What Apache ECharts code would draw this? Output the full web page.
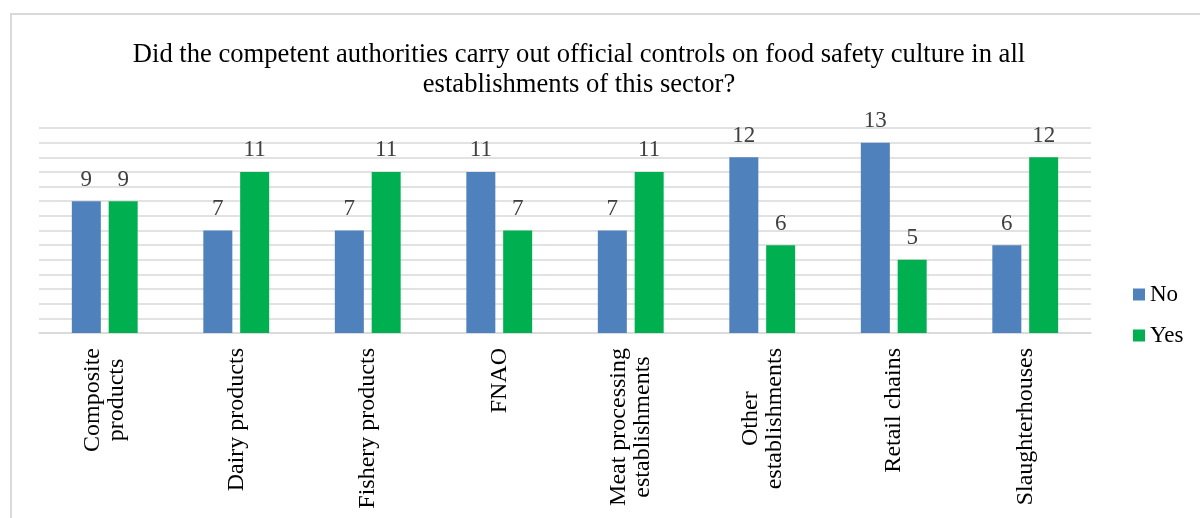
<!DOCTYPE html>
<html>
<head>
<meta charset="utf-8">
<script src="https://cdn.jsdelivr.net/npm/echarts@6/dist/echarts.min.js"></script>
<style>
  html, body { margin: 0; padding: 0; background: #fff; }
  #frame { position: absolute; left: 10px; top: 13px; width: 1300px; height: 600px;
           border-left: 2px solid #d9d9d9; border-top: 2px solid #d9d9d9; }
  #chart_1 { position: absolute; left: 0; top: 0; width: 1200px; height: 518px; }
</style>
</head>
<body>
<div id="frame"></div>
<div id="chart_1"></div>
<script>
var categories = ['Composite\nproducts', 'Dairy products', 'Fishery products', 'FNAO',
    'Meat processing\nestablishments', 'Other\nestablishments', 'Retail chains', 'Slaughterhouses'];
var noValues = [9, 7, 7, 11, 7, 12, 13, 6];
var yesValues = [9, 11, 11, 7, 11, 6, 5, 12];
var titleText = 'Did the competent authorities carry out official controls on food safety culture in all\nestablishments of this sector?';

function echart_1() {
    var myChart = echarts.init(document.getElementById('chart_1'));
    var font = '"Liberation Serif", serif';
    var labelSize = 24;

    // rotated labels are right aligned; shorter lines get a spacer after them
    // so the lines of one label look centred on each other
    var ctx = document.createElement('canvas').getContext('2d');
    ctx.font = labelSize + 'px ' + font;
    var rich = {};
    var labelText = categories.map(function (c, i) {
        var lines = c.split('\n');
        var widths = lines.map(function (s) { return ctx.measureText(s).width; });
        var w = Math.max.apply(null, widths);
        return lines.map(function (s, j) {
            var pad = (w - widths[j]) / 2;
            if (pad < 1) return s;
            var key = 'p' + i + 'x' + j;
            rich[key] = { width: pad, backgroundColor: '#fff' };
            return s + '{' + key + '| }';
        }).join('\n');
    });

    var valueLabel = {
        show: true,
        position: 'top',
        distance: 10,
        fontFamily: font,
        fontSize: 23,
        color: '#404040'
    };
    option = {
        backgroundColor: 'transparent',
        animation: false,
        title: {
            text: titleText,
            left: 574,
            textAlign: 'center',
            top: 35,
            textStyle: {
                fontFamily: font,
                fontSize: 26.6,
                fontWeight: 'normal',
                color: '#000',
                lineHeight: 30
            }
        },
        legend: {
            orient: 'vertical',
            left: 1128,
            top: 278,
            itemWidth: 12,
            itemHeight: 12,
            itemGap: 18,
            icon: 'rect',
            textStyle: { fontFamily: font, fontSize: 23, color: '#000' }
        },
        grid: { left: 39, right: 109, top: 128, bottom: 185 },
        xAxis: {
            type: 'category',
            data: categories,
            axisLine: { lineStyle: { color: '#d9d9d9', width: 1.5 } },
            axisTick: { show: false },
            axisLabel: {
                interval: 0,
                rotate: 90,
                margin: 15,
                fontFamily: font,
                fontSize: labelSize,
                color: '#000',
                formatter: function (v, idx) { return labelText[idx]; },
                rich: rich
            }
        },
        yAxis: {
            type: 'value',
            min: 0,
            max: 14,
            interval: 1,
            axisLabel: { show: false },
            axisLine: { show: false },
            axisTick: { show: false },
            splitLine: { lineStyle: { color: '#d9d9d9', width: 1.5 } }
        },
        series: [
            {
                name: 'No',
                type: 'bar',
                data: noValues,
                barWidth: 29,
                barGap: '27%',
                itemStyle: { color: '#4f81bd' },
                label: valueLabel
            },
            {
                name: 'Yes',
                type: 'bar',
                data: yesValues,
                barWidth: 29,
                itemStyle: { color: '#00b050' },
                label: valueLabel
            }
        ]
    };
    if (option && typeof option === 'object')
        myChart.setOption(option);
    window.addEventListener("resize", function () {
        myChart.resize();
    });
}
echart_1();
</script>
</body>
</html>
